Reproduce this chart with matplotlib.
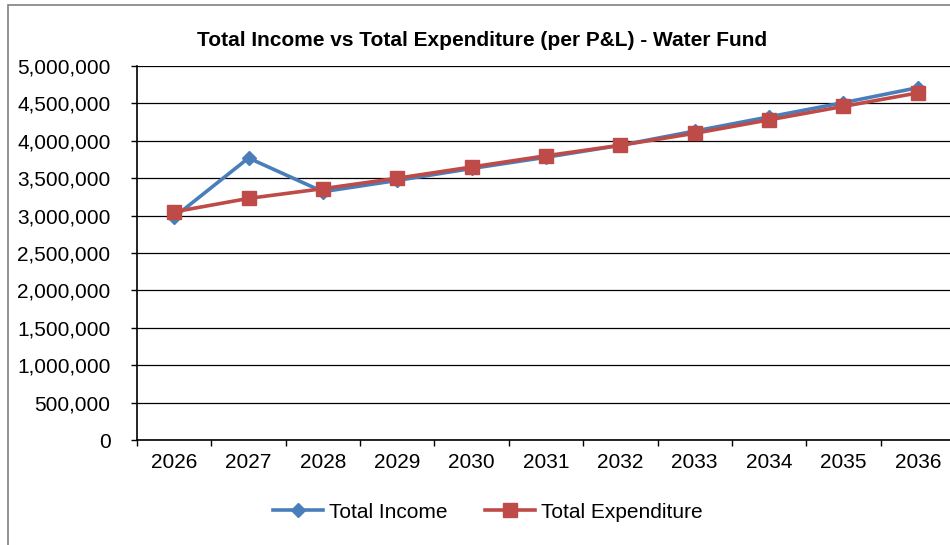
import numpy as np
import matplotlib
matplotlib.use("Agg")
import matplotlib.pyplot as plt
from matplotlib.patches import Rectangle
from matplotlib.ticker import FuncFormatter, MultipleLocator

plt.rcParams['font.family'] = ['Liberation Sans', 'DejaVu Sans']

# --- Data ---
years = ["2026", "2027", "2028", "2029", "2030", "2031",
         "2032", "2033", "2034", "2035", "2036"]
total_income = [2980000, 3770000, 3320000, 3470000, 3630000, 3780000,
                3940000, 4130000, 4320000, 4510000, 4710000]
total_expenditure = [3050000, 3230000, 3360000, 3500000, 3650000, 3800000,
                     3940000, 4100000, 4280000, 4460000, 4640000]

blue = "#4A7EBB"
red = "#BE4B48"

fig = plt.figure(figsize=(9.5, 5.45), dpi=100)
W, H = 950, 545

# outer chart border (runs off the right / bottom of the image)
fig.patches.append(Rectangle((7.5 / W, -0.05), 1.1, 1.05 - 5.5 / H,
                             transform=fig.transFigure, fill=False,
                             edgecolor="#808080", linewidth=1.2))

ax = fig.add_axes([137 / W, 1 - 440 / H, (955 - 137) / W, (440 - 66) / H])

x = np.arange(len(years))
ax.plot(x, total_income, color=blue, linewidth=2.6, marker="D",
        markersize=7.5, label="Total Income", zorder=3)
ax.plot(x, total_expenditure, color=red, linewidth=2.6, marker="s",
        markersize=9.5, label="Total Expenditure", zorder=4)

ax.set_xlim(-0.5, len(years) - 0.5)
ax.set_ylim(0, 5000000)
ax.yaxis.set_major_locator(MultipleLocator(500000))
ax.yaxis.set_major_formatter(FuncFormatter(lambda v, p: f"{int(v):,}"))
ax.grid(axis="y", color="black", linewidth=0.9)
ax.set_axisbelow(True)

ax.set_xticks(x)
ax.set_xticklabels(years)
ax.set_xticks(np.arange(-0.5, len(years), 1.0), minor=True)
ax.tick_params(axis="x", which="major", length=0, pad=9, labelsize=15)
ax.tick_params(axis="x", which="minor", length=4, width=1, direction="out")
ax.tick_params(axis="y", length=4, width=1, direction="out", pad=15, labelsize=15)

for side in ["top", "right"]:
    ax.spines[side].set_visible(False)
for side in ["left", "bottom"]:
    ax.spines[side].set_linewidth(1.2)
    ax.spines[side].set_color("black")

fig.text(482 / W, 1 - 40 / H, "Total Income vs Total Expenditure (per P&L) - Water Fund",
         ha="center", va="center", fontsize=15, fontweight="bold")

fig.legend(loc="center", bbox_to_anchor=(488 / W, 1 - 512 / H), ncol=2,
           frameon=False, fontsize=15, handlelength=2.4, handletextpad=0.3,
           columnspacing=1.8)

fig.savefig("out.png", dpi=100)
